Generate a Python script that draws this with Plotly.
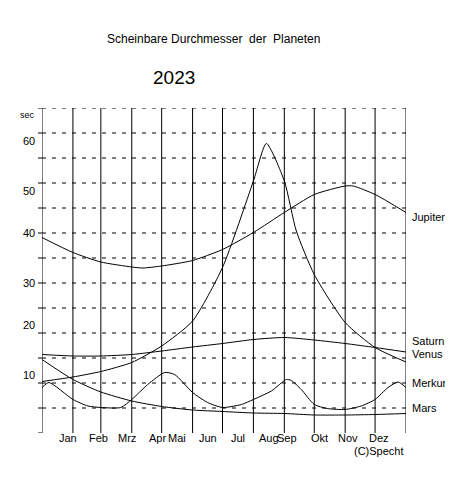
import plotly.graph_objects as go

months = ["Jan","Feb","Mrz","Apr","Mai","Jun","Jul","Aug","Sep","Okt","Nov","Dez"]
month_starts = [0,31,59,90,120,151,181,212,243,273,304,334,365]
y_labels = [10,20,30,40,50,60]

jup_d = [0,31,59,90,101,120,151,181,212,243,273,304,312,334,365]
jup_v = [39.1,36.1,34.2,33.2,33.0,33.4,34.5,36.7,40.1,44.1,47.7,49.4,49.4,47.7,44.1]
ven_d = [0,31,59,90,120,151,181,212,225,243,255,273,304,334,365]
ven_v = [10.3,11.2,12.3,14.1,17.4,22.4,33.1,50.4,57.9,50.4,40.4,31.7,22.1,17.1,14.2]
sat_d = [0,31,59,90,120,151,181,212,243,273,304,334,365]
sat_v = [15.7,15.4,15.4,15.7,16.4,17.2,17.9,18.7,19.1,18.6,17.9,17.1,16.2]
mars_d = [0,31,59,90,120,151,181,212,243,273,304,334,365]
mars_v = [14.7,10.7,8.2,6.4,5.3,4.6,4.3,4.0,3.9,3.6,3.6,3.7,3.9]
mer_d = [0,7,31,46,59,79,90,106,123,133,151,166,181,200,212,230,245,250,260,273,286,304,320,334,347,357,365]
mer_v = [9.1,10.1,6.7,5.4,5.1,5.1,6.7,9.7,12.1,11.7,8.1,6.1,5.1,5.7,6.7,8.4,10.7,10.5,8.7,5.7,4.9,4.7,5.4,6.7,9.1,10.2,9.1]

series = [("Jupiter",jup_d,jup_v),("Venus",ven_d,ven_v),("Saturn",sat_d,sat_v),
          ("Mars",mars_d,mars_v),("Merkur",mer_d,mer_v)]
label_y = {"Jupiter":43.3,"Saturn":16.9,"Venus":14.3,"Merkur":8.4,"Mars":3.4}

XMAX, YMAX = 365.0, 65.0
def px(d): return d / XMAX
def py(v): return v / YMAX

fig = go.Figure()
for name, d, v in series:
    fig.add_trace(go.Scatter(x=d, y=v, mode="lines",
                             line=dict(color="black", width=1, shape="spline", smoothing=0.6),
                             showlegend=False, hoverinfo="skip"))

FF = "Liberation Sans, Arial"
font = dict(family=FF, size=11, color="black")
shapes = []
for s in month_starts:
    shapes.append(dict(type="line", xref="x", yref="y", x0=s, x1=s, y0=-0.6, y1=65, line=dict(color="black", width=1)))
for yv in range(5, 70, 5):
    shapes.append(dict(type="line", xref="x", yref="y", x0=0, x1=365, y0=yv, y1=yv,
                       line=dict(color="black", width=1, dash="4px,6px"), layer="below"))
for yv in range(0, 70, 5):
    shapes.append(dict(type="line", xref="paper", yref="y", x0=-0.011, x1=0, y0=yv, y1=yv,
                       line=dict(color="black", width=1)))

ann = []
for i, m in enumerate(months):
    ann.append(dict(x=px((month_starts[i] + month_starts[i+1]) / 2), y=py(-2.5), text=m))
for yl in y_labels:
    ann.append(dict(x=px(-5), y=py(yl), text=str(yl), xanchor="right"))
ann.append(dict(x=px(-5), y=py(65), text="sec", xanchor="right", font=dict(family=FF, size=9, color="black")))
for name in label_y:
    ann.append(dict(x=px(369), y=py(label_y[name]), text=name, xanchor="left"))
ann.append(dict(x=px(365), y=py(-5.2), text="(C)Specht", xanchor="right"))
ann.append(dict(x=(205-34)/364, y=(425-22)/325, text="Scheinbare Durchmesser  der  Planeten",
                font=dict(family=FF, size=12, color="black")))
ann.append(dict(x=(166-34)/364, y=(425-57)/325, text="2023", font=dict(family=FF, size=19, color="black")))
for a in ann:
    a.setdefault("font", font)
    a.update(xref="paper", yref="paper", showarrow=False)

fig.update_layout(
    width=453, height=480, margin=dict(l=34, r=55, t=100, b=55, autoexpand=False),
    paper_bgcolor="white", plot_bgcolor="white",
    xaxis=dict(range=[0, 365], showgrid=False, zeroline=False, showticklabels=False, ticks="", fixedrange=True),
    yaxis=dict(range=[0, 65], showgrid=False, zeroline=False, showticklabels=False, ticks="", fixedrange=True),
    shapes=shapes, annotations=ann,
)
fig.write_html("out.html")
